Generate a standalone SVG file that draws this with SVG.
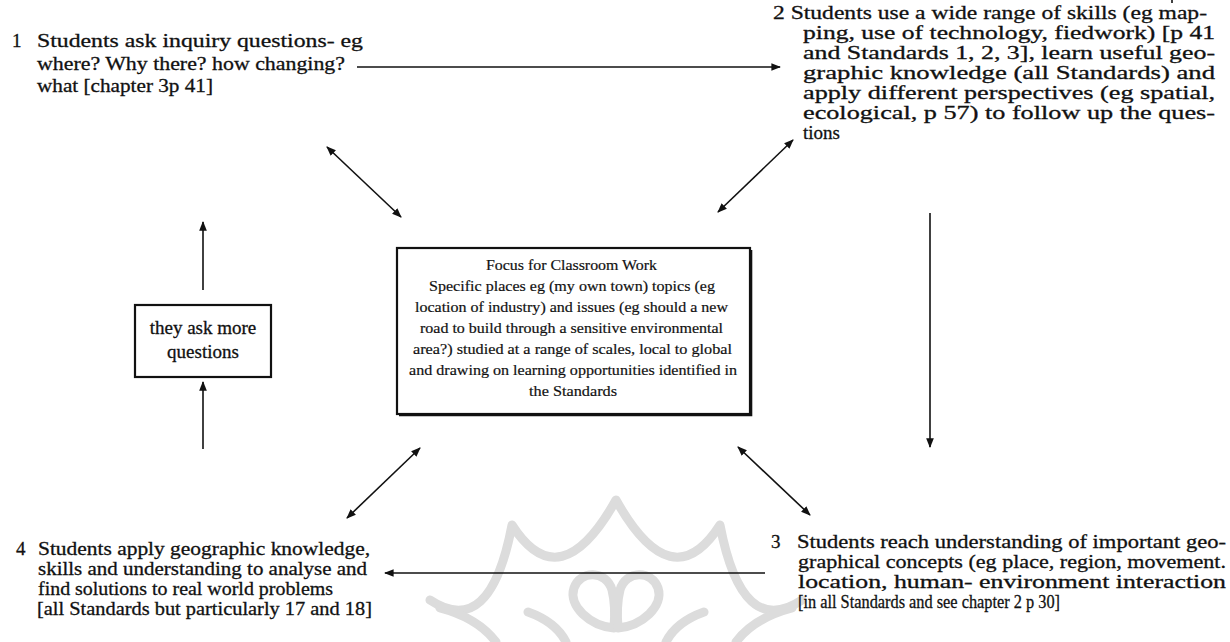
<svg xmlns="http://www.w3.org/2000/svg" width="1230" height="642" viewBox="0 0 1230 642">
<defs>
<style>
text{font-family:"Liberation Serif","Times New Roman",serif;fill:#111;stroke:#111;stroke-width:0.3}
.t{font-size:19px}
.c{font-size:15.5px;stroke-width:0.2}
.ln{stroke:#111;stroke-width:1.6;fill:none}
.wm{stroke:#dcdcdc;stroke-width:9;fill:none;stroke-linecap:round;stroke-linejoin:round}
.box{fill:#fff;stroke:#111;stroke-width:2.2}
.edge{stroke:#111;stroke-width:1.6;fill:none}
</style>
<marker id="ah" viewBox="0 0 10 10" refX="9" refY="5" markerWidth="6" markerHeight="6" orient="auto-start-reverse" markerUnits="strokeWidth">
<path d="M0,1 L10,5 L0,9 z" fill="#111"/>
</marker>
</defs>
<rect width="1230" height="642" fill="#fff"/>
<g id="watermark">
<path class="wm" d="M430,600 Q490,640 512,525 Q560,600 616,500 Q672,600 720,525 Q742,640 802,600"/>
<path class="wm" d="M614,628 C590,626 568,606 574,588 C580,570 606,570 612,590 C615,602 615,616 614,628"/>
<path class="wm" d="M618,628 C642,626 664,606 658,588 C652,570 626,570 620,590 C617,602 617,616 618,628"/>
<path class="wm" d="M440,608 Q478,618 496,642"/>
<path class="wm" d="M528,612 Q556,622 566,642"/>
<path class="wm" d="M792,608 Q754,618 736,642"/>
<path class="wm" d="M704,612 Q676,622 666,642"/>
</g>
<g id="connectors">
<line class="ln" x1="357" y1="67" x2="780" y2="67" marker-end="url(#ah)"/>
<line class="ln" x1="327" y1="147" x2="401" y2="217" marker-start="url(#ah)" marker-end="url(#ah)"/>
<line class="ln" x1="718" y1="212" x2="793" y2="140" marker-start="url(#ah)" marker-end="url(#ah)"/>
<line class="ln" x1="930" y1="213" x2="930" y2="447" marker-end="url(#ah)"/>
<line class="ln" x1="738" y1="447" x2="810" y2="515" marker-start="url(#ah)" marker-end="url(#ah)"/>
<line class="ln" x1="765" y1="573" x2="385" y2="573" marker-end="url(#ah)"/>
<line class="ln" x1="347" y1="518" x2="420" y2="448" marker-start="url(#ah)" marker-end="url(#ah)"/>
<line class="ln" x1="203" y1="449" x2="203" y2="382" marker-end="url(#ah)"/>
<line class="ln" x1="203" y1="290" x2="203" y2="222" marker-end="url(#ah)"/>
<line class="ln" x1="1172" y1="0" x2="1172" y2="3"/>
</g>
<g id="node1">
<text class="t" x="12" y="47">1</text>
<text class="t" x="37" y="47" textLength="326" lengthAdjust="spacingAndGlyphs">Students ask inquiry questions- eg</text>
<text class="t" x="37" y="70" textLength="308" lengthAdjust="spacingAndGlyphs">where? Why there? how changing?</text>
<text class="t" x="37" y="92" textLength="176" lengthAdjust="spacingAndGlyphs">what [chapter 3p 41]</text>
</g>
<g id="node2">
<text class="t" x="773" y="19" textLength="434" lengthAdjust="spacingAndGlyphs">2 Students use a wide range of skills (eg map-</text>
<text class="t" x="803" y="39" textLength="412" lengthAdjust="spacingAndGlyphs">ping, use of technology, fiedwork) [p 41</text>
<text class="t" x="803" y="59" textLength="412" lengthAdjust="spacingAndGlyphs">and Standards 1, 2, 3], learn useful geo-</text>
<text class="t" x="803" y="79" textLength="412" lengthAdjust="spacingAndGlyphs">graphic knowledge (all Standards) and</text>
<text class="t" x="803" y="99" textLength="412" lengthAdjust="spacingAndGlyphs">apply different perspectives (eg spatial,</text>
<text class="t" x="803" y="119" textLength="412" lengthAdjust="spacingAndGlyphs">ecological, p 57) to follow up the ques-</text>
<text class="t" x="803" y="139">tions</text>
</g>
<g id="center">
<rect class="box" x="397" y="248" width="353" height="166"/>
<path class="edge" d="M399,415.5 H751.5 V250"/>
<text class="c" x="486" y="270" textLength="171" lengthAdjust="spacingAndGlyphs">Focus for Classroom Work</text>
<text class="c" x="429" y="291" textLength="286" lengthAdjust="spacingAndGlyphs">Specific places eg (my own town) topics (eg</text>
<text class="c" x="415" y="312" textLength="313" lengthAdjust="spacingAndGlyphs">location of industry) and issues (eg should a new</text>
<text class="c" x="420" y="333" textLength="303" lengthAdjust="spacingAndGlyphs">road to build through a sensitive environmental</text>
<text class="c" x="413" y="354" textLength="319" lengthAdjust="spacingAndGlyphs">area?) studied at a range of scales, local to global</text>
<text class="c" x="409" y="375" textLength="328" lengthAdjust="spacingAndGlyphs">and drawing on learning opportunities identified in</text>
<text class="c" x="529" y="396" textLength="88" lengthAdjust="spacingAndGlyphs">the Standards</text>
</g>
<g id="more">
<rect class="box" x="135" y="305" width="136" height="72"/>
<text class="t" x="203" y="334" text-anchor="middle">they ask more</text>
<text class="t" x="203" y="358" text-anchor="middle">questions</text>
</g>
<g id="node3">
<text class="t" x="771" y="548">3</text>
<text class="t" x="797" y="548" textLength="429" lengthAdjust="spacingAndGlyphs">Students reach understanding of important geo-</text>
<text class="t" x="798" y="568" textLength="428" lengthAdjust="spacingAndGlyphs">graphical concepts (eg place, region, movement.</text>
<text class="t" x="798" y="588" textLength="428" lengthAdjust="spacingAndGlyphs">location, human- environment interaction</text>
<text class="t" x="798" y="608" textLength="262" lengthAdjust="spacingAndGlyphs">[in all Standards and see chapter 2 p 30]</text>
</g>
<g id="node4">
<text class="t" x="16" y="555">4</text>
<text class="t" x="38" y="555" textLength="332" lengthAdjust="spacingAndGlyphs">Students apply geographic knowledge,</text>
<text class="t" x="38" y="575" textLength="329" lengthAdjust="spacingAndGlyphs">skills and understanding to analyse and</text>
<text class="t" x="38" y="595" textLength="295" lengthAdjust="spacingAndGlyphs">find solutions to real world problems</text>
<text class="t" x="37" y="615" textLength="335" lengthAdjust="spacingAndGlyphs">[all Standards but particularly 17 and 18]</text>
</g>
</svg>
